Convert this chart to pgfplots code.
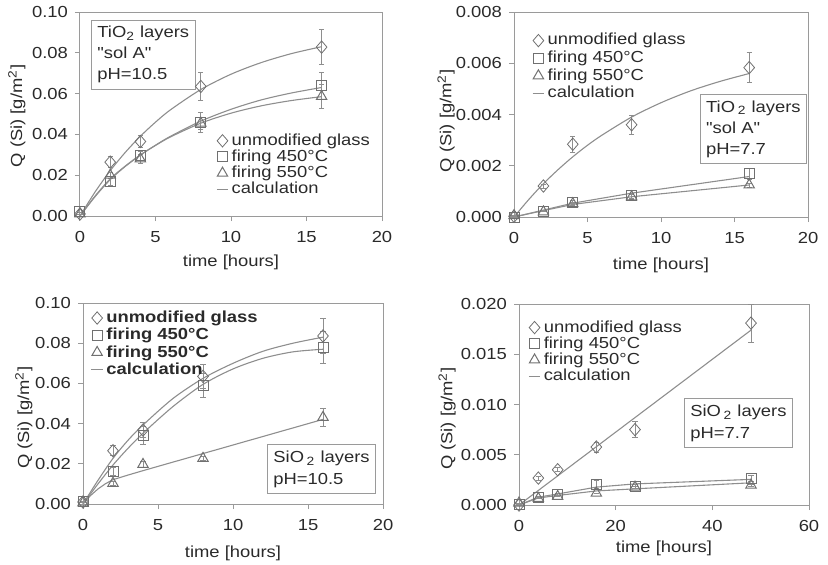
\documentclass[border=0pt]{standalone}
\usepackage{pgfplots}
\pgfplotsset{compat=1.18}
\usepackage{fontspec}
\setmainfont[FakeStretch=1.15]{Liberation Sans}
\newfontfamily\plainfont[FakeStretch=1.15]{Liberation Sans}
\definecolor{ax}{HTML}{9A9A9A}
\definecolor{ln}{HTML}{8E8E8E}
\definecolor{mk}{HTML}{707070}
\definecolor{tx}{HTML}{2A2A2A}
\newcommand{\q}{{\plainfont"}}
\tikzset{tbox/.style={draw=ax, line width=0.5pt, align=left, inner sep=3pt, text=tx,
   font=\fontsize{8}{10.5}\selectfont}}
\pgfplotsset{
 base/.style={
  scale only axis, anchor=south west, clip=false,
  axis line style={ax, line width=0.5pt},
  tick style={ax, line width=0.5pt},
  tick align=outside, tick pos=left, major tick length=2.5pt,
  font=\fontsize{8}{9.6}\selectfont,
  /pgf/number format/assume math mode=true,
  tick label style={tx},
  label style={tx},
  xticklabel style={yshift=-1.5pt},
  scaled y ticks=false,
  legend cell align=left,
  legend image code/.code={\draw[mark repeat=2,mark phase=2,##1] plot coordinates {(0cm,0cm) (0.13cm,0cm) (0.26cm,0cm)};},
  legend style={draw=none, fill=none, text=tx, font=\fontsize{8}{9.6}\selectfont,
     nodes={inner ysep=0.3pt, inner xsep=1.5pt, text height=6pt, text depth=1.5pt}},
 },
 dat/.style={only marks, mk, mark options={solid, fill=none, line width=0.5pt},
   error bars/y dir=both, error bars/y explicit,
   error bars/error bar style={ln, line width=0.4pt},
   error bars/error mark options={rotate=90, mark size=1.3pt, ln, line width=0.4pt}},
 dia/.style={dat, mark=diamond, mark size=3.1pt, mark options={xscale=1.15}},
 sqr/.style={dat, mark=square, mark size=2.5pt},
 tri/.style={dat, mark=triangle, mark size=3.0pt},
 calc/.style={ln, line width=0.55pt, no marks,
   legend image code/.code={\draw[##1] (0.03cm,0cm) -- (0.23cm,0cm);}},
}
\begin{document}
\begin{tikzpicture}
\path[use as bounding box] (0,0) rectangle (414pt,282pt);
% ---------------- Panel 1 ----------------
\begin{axis}[base, at={(40pt,174pt)}, width=151pt, height=102pt,
  xmin=0, xmax=20, ymin=0, ymax=0.1, xtick={0,5,10,15,20},
  ytick={0,0.02,0.04,0.06,0.08,0.1},
  yticklabel style={/pgf/number format/.cd, fixed, fixed zerofill, precision=2},
  xlabel={time [hours]}, ylabel={Q (Si) [g/m\textsuperscript{2}]},
  xlabel style={at={(axis description cs:0.5,-0.225)}, anchor=center},
  ylabel style={at={(axis description cs:-0.209,0.49)}, anchor=center},
  legend style={at={(rel axis cs:0.43,0.43)}, anchor=north west}]
\addplot[dia] coordinates {(0,0.001) +- (0,0) (2,0.0264) +- (0,0.0026) (4,0.0365) +- (0,0.003) (8,0.0635) +- (0,0.0067) (16,0.0828) +- (0,0.0085)};
\addlegendentry{unmodified glass}
\addplot[sqr] coordinates {(0,0.002) +- (0,0) (2,0.0167) +- (0,0.0015) (4,0.0295) +- (0,0.002) (8,0.046) +- (0,0.005) (16,0.0638) +- (0,0.0067)};
\addlegendentry{firing 450°C}
\addplot[tri] coordinates {(0,0.001) +- (0,0) (2,0.0200) +- (0,0.0015) (4,0.028) +- (0,0.002) (8,0.0455) +- (0,0.003) (16,0.0586) +- (0,0.006)};
\addlegendentry{firing 550°C}
\addplot[calc, smooth] coordinates {(0,0) (1,0.0118) (2,0.0222) (3,0.0312) (4,0.0391) (5,0.0460) (6,0.0521) (8,0.0620) (10,0.0695) (12,0.0752) (14,0.0796) (16,0.0830)};
\addlegendentry{calculation}
\addplot[calc, smooth, forget plot] coordinates {(0,0) (1,0.0095) (2,0.0178) (3,0.0243) (4,0.0298) (5,0.0347) (6,0.0391) (8,0.0465) (10,0.0523) (12,0.0569) (14,0.0603) (16,0.0630)};
\addplot[calc, smooth, forget plot] coordinates {(0,0) (1,0.0098) (2,0.0182) (3,0.0245) (4,0.0300) (5,0.0346) (6,0.0388) (8,0.0455) (10,0.0504) (12,0.0540) (14,0.0566) (16,0.0585)};
\node[tbox, anchor=north west] at (rel axis cs:0.036,0.962) {TiO\textsubscript{2} layers\\\q sol A\q\\pH=10.5};
\end{axis}
% ---------------- Panel 2 ----------------
\begin{axis}[base, at={(257pt,173.5pt)}, width=147pt, height=102.5pt,
  xmin=0, xmax=20, ymin=0, ymax=0.008, xtick={0,5,10,15,20},
  ytick={0,0.002,0.004,0.006,0.008},
  yticklabel style={/pgf/number format/.cd, fixed, fixed zerofill, precision=3},
  xlabel={time [hours]}, ylabel={Q (Si) [g/m\textsuperscript{2}]},
  xlabel style={at={(axis description cs:0.5,-0.234)}, anchor=center},
  ylabel style={at={(axis description cs:-0.231,0.47)}, anchor=center},
  legend style={at={(rel axis cs:0.04,0.925)}, anchor=north west, nodes={text height=6.3pt, text depth=1.9pt}}]
\addplot[dia] coordinates {(0,0.00003) +- (0,0) (2,0.00121) +- (0,0.00008) (4,0.00284) +- (0,0.00032) (8,0.0036) +- (0,0.00037) (16,0.00583) +- (0,0.00058)};
\addlegendentry{unmodified glass}
\addplot[sqr] coordinates {(0,-0.00003) +- (0,0) (2,0.00023) +- (0,0) (4,0.00058) +- (0,0.00005) (8,0.00083) +- (0,0.0001) (16,0.00168) +- (0,0.00023)};
\addlegendentry{firing 450°C}
\addplot[tri] coordinates {(0,0.00005) +- (0,0) (2,0.0002) +- (0,0) (4,0.00052) +- (0,0.00005) (8,0.00079) +- (0,0.0001) (16,0.00125) +- (0,0.00008)};
\addlegendentry{firing 550°C}
\addplot[calc, smooth] coordinates {(0,0) (1,0.00068) (2,0.00130) (3,0.00185) (4,0.00235) (5,0.00280) (6,0.00320) (8,0.00390) (10,0.00446) (12,0.00492) (14,0.00529) (16,0.00560)};
\addlegendentry{calculation}
\addplot[calc, forget plot] coordinates {(0,0) (2,0.00027) (4,0.00054) (8,0.00093) (16,0.00158)};
\addplot[calc, forget plot] coordinates {(0,0) (2,0.00025) (4,0.00049) (8,0.00079) (16,0.00125)};
\node[tbox, anchor=north east] at (rel axis cs:0.997,0.6) {TiO\,\textsubscript{2} layers\\\q sol A\q\\pH=7.7};
\end{axis}
% ---------------- Panel 3 ----------------
\begin{axis}[base, at={(41.5pt,30pt)}, width=150pt, height=100.5pt,
  xmin=0, xmax=20, ymin=0, ymax=0.1, xtick={0,5,10,15,20},
  ytick={0,0.02,0.04,0.06,0.08,0.1},
  yticklabel style={/pgf/number format/.cd, fixed, fixed zerofill, precision=2},
  xlabel={time [hours]}, ylabel={Q (Si) [g/m\textsuperscript{2}]},
  xlabel style={at={(axis description cs:0.5,-0.247)}, anchor=center},
  ylabel style={at={(axis description cs:-0.197,0.43)}, anchor=center},
  legend style={at={(rel axis cs:0.005,0.99)}, anchor=north west, font=\fontsize{8}{9.6}\selectfont\bfseries, nodes={text height=6.3pt, text depth=1.7pt}}]
\addplot[dia] coordinates {(0,0.001) +- (0,0) (2,0.0265) +- (0,0.0025) (4,0.0368) +- (0,0.0037) (8,0.0635) +- (0,0.006) (16,0.0836) +- (0,0.0086)};
\addlegendentry{unmodified glass}
\addplot[sqr] coordinates {(0,0.0013) +- (0,0) (2,0.0161) +- (0,0.002) (4,0.0343) +- (0,0.0045) (8,0.0592) +- (0,0.006) (16,0.0779) +- (0,0.0078)};
\addlegendentry{firing 450°C}
\addplot[tri] coordinates {(0,0.0006) +- (0,0) (2,0.0103) +- (0,0.001) (4,0.0197) +- (0,0.0015) (8,0.0227) +- (0,0.001) (16,0.0431) +- (0,0.0045)};
\addlegendentry{firing 550°C}
\addplot[calc, smooth] coordinates {(0,0) (1,0.0118) (2,0.0227) (3,0.0317) (4,0.0393) (6,0.0525) (8,0.0625) (10,0.0700) (12,0.0760) (14,0.0800) (16,0.0830)};
\addlegendentry{calculation}
\addplot[calc, smooth, forget plot] coordinates {(0,0) (1,0.0100) (2,0.0194) (3,0.0277) (4,0.0352) (6,0.0485) (8,0.0595) (10,0.0672) (12,0.0725) (14,0.0757) (16,0.0770)};
\addplot[calc, forget plot] coordinates {(0,0) (0.5,0.0042) (1,0.0075) (1.5,0.0101) (2,0.0121) (3,0.0144) (4,0.0166) (8,0.0251) (16,0.0421)};
\node[tbox, anchor=south east, font=\fontsize{8}{11}\selectfont] at (rel axis cs:0.977,0.05) {SiO\,\textsubscript{2} layers\\pH=10.5};
\end{axis}
% ---------------- Panel 4 ----------------
\begin{axis}[base, at={(259.5pt,29.5pt)}, width=145pt, height=100.5pt,
  xmin=0, xmax=60, ymin=0, ymax=0.02, xtick={0,20,40,60},
  ytick={0,0.005,0.01,0.015,0.02},
  yticklabel style={/pgf/number format/.cd, fixed, fixed zerofill, precision=3},
  xlabel={time [hours]}, ylabel={Q (Si) [g/m\textsuperscript{2}]},
  xlabel style={at={(axis description cs:0.5,-0.217)}, anchor=center},
  ylabel style={at={(axis description cs:-0.248,0.43)}, anchor=center},
  legend style={at={(rel axis cs:0.01,0.945)}, anchor=north west}]
\addplot[dia] coordinates {(0,0) +- (0,0) (4,0.00268) +- (0,0.0002) (8,0.00351) +- (0,0.0002) (16,0.00577) +- (0,0.0005) (24,0.0075) +- (0,0.0008) (48,0.0181) +- (0,0.0019)};
\addlegendentry{unmodified glass}
\addplot[sqr] coordinates {(0,0.0001) +- (0,0) (4,0.00078) +- (0,0.0001) (8,0.00101) +- (0,0.0001) (16,0.00201) +- (0,0.0004) (24,0.00188) +- (0,0.0002) (48,0.00261) +- (0,0.0003)};
\addlegendentry{firing 450°C}
\addplot[tri] coordinates {(0,0.0002) +- (0,0) (4,0.00065) +- (0,0) (8,0.00085) +- (0,0) (16,0.00118) +- (0,0) (24,0.00178) +- (0,0.0001) (48,0.00198) +- (0,0.0001)};
\addlegendentry{firing 550°C}
\addplot[calc] coordinates {(0,0) (48,0.0174)};
\addlegendentry{calculation}
\addplot[calc, forget plot] coordinates {(0,0) (4,0.00078) (8,0.0011) (16,0.00178) (24,0.0021) (48,0.00255)};
\addplot[calc, forget plot] coordinates {(0,0) (4,0.0007) (8,0.00095) (16,0.0014) (24,0.00161) (48,0.00221)};
\node[tbox, anchor=north east, font=\fontsize{8}{11}\selectfont] at (rel axis cs:0.945,0.532) {SiO\,\textsubscript{2} layers\\pH=7.7};
\end{axis}
\end{tikzpicture}
\end{document}
